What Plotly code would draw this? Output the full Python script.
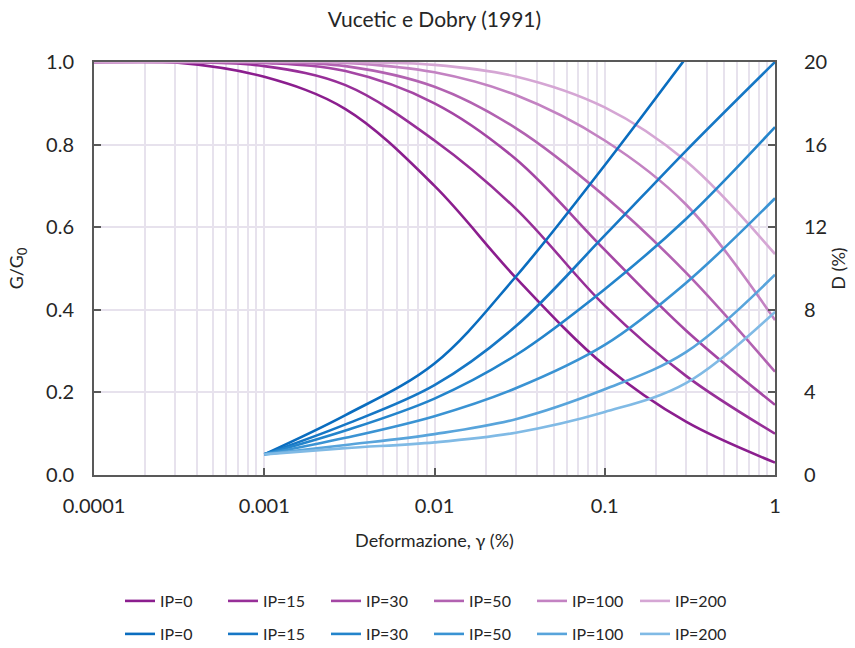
import plotly.graph_objects as go

# ---------------- data ----------------
STRAIN_G = [0.0001, 0.0003, 0.001, 0.003, 0.01, 0.03, 0.1, 0.3, 1.0]
G_IP0 = [1.0, 0.999, 0.964, 0.886, 0.70, 0.478, 0.265, 0.129, 0.03]
G_IP15 = [1.0, 1.0, 0.99, 0.944, 0.81, 0.645, 0.41, 0.24, 0.10]
G_IP30 = [1.0, 1.0, 0.998, 0.978, 0.90, 0.765, 0.545, 0.35, 0.17]
G_IP50 = [1.0, 1.0, 1.0, 0.99, 0.94, 0.84, 0.675, 0.49, 0.25]
G_IP100 = [1.0, 1.0, 1.0, 0.998, 0.975, 0.92, 0.81, 0.655, 0.375]
G_IP200 = [1.0, 1.0, 1.0, 1.0, 0.993, 0.965, 0.89, 0.76, 0.535]

STRAIN_D = [0.001, 0.003, 0.01, 0.03, 0.1, 0.3, 1.0]
D_IP0 = [1.0, 2.9, 5.4, 9.6, 15.0, 20.2, 26.0]
D_IP15 = [1.0, 2.45, 4.35, 7.2, 11.6, 15.7, 20.0]
D_IP30 = [1.0, 2.15, 3.7, 5.8, 9.0, 12.4, 16.85]
D_IP50 = [1.0, 1.8, 2.85, 4.2, 6.3, 9.3, 13.4]
D_IP100 = [1.0, 1.45, 1.98, 2.7, 4.15, 5.95, 9.7]
D_IP200 = [1.0, 1.3, 1.58, 2.05, 3.05, 4.45, 7.9]

NAMES = ["IP=0", "IP=15", "IP=30", "IP=50", "IP=100", "IP=200"]
X_TICKS = [0.0001, 0.001, 0.01, 0.1, 1]
X_TICKTEXT = ["0.0001", "0.001", "0.01", "0.1", "1"]

# ---------------- styles ----------------
PURPLES = ["#8B1E8E", "#972F98", "#A446A4", "#B262B1", "#C382C2", "#D5A6D4"]
BLUES = ["#0A6DBF", "#1677C5", "#2384CB", "#3A93D3", "#58A4DB", "#80BAE5"]
GRID = "#E7E2ED"
AX = "#595959"
TXT = "#262626"
FONT = "Lato"
LW = 2.6
SM = 1.0

fig = go.Figure()
for name, vals, col in zip(NAMES, [G_IP0, G_IP15, G_IP30, G_IP50, G_IP100, G_IP200], PURPLES):
    fig.add_trace(go.Scatter(x=STRAIN_G, y=vals, mode="lines", name=name,
                             line=dict(color=col, width=LW, shape="spline", smoothing=SM),
                             legend="legend"))
for name, vals, col in zip(NAMES, [D_IP0, D_IP15, D_IP30, D_IP50, D_IP100, D_IP200], BLUES):
    fig.add_trace(go.Scatter(x=STRAIN_D, y=vals, mode="lines", name=name, yaxis="y2",
                             line=dict(color=col, width=LW, shape="spline", smoothing=SM),
                             legend="legend2"))

minor_vals = []
for dec in [0.0001, 0.001, 0.01, 0.1]:
    for k in range(2, 10):
        minor_vals.append(dec * k)

tickfont = dict(size=20, family=FONT, color=TXT)
titlefont = dict(size=18, family=FONT, color=TXT)

fig.update_layout(
    width=855, height=648,
    margin=dict(l=94, r=80, t=62, b=173, autoexpand=False),
    paper_bgcolor="white", plot_bgcolor="white",
    font=dict(family=FONT, color=TXT),
    title=dict(text="Vucetic e Dobry (1991)", x=0.5, xref="paper", y=1 - 20 / 648,
               yanchor="middle", xanchor="center", font=dict(size=21, family=FONT, color=TXT)),
    xaxis=dict(type="log", range=[-4, 0], tickvals=X_TICKS, ticktext=X_TICKTEXT,
               ticks="inside", ticklen=7, tickwidth=2, tickcolor=AX,
               showline=True, linecolor=AX, linewidth=2, mirror=True,
               showgrid=True, gridcolor=GRID, gridwidth=1.5, zeroline=False, automargin=False,
               minor=dict(tickvals=minor_vals, showgrid=True, gridcolor=GRID, gridwidth=1.5, ticks=""),
               tickfont=tickfont, ticklabelstandoff=12,
               title=dict(text="Deformazione, γ (%)", font=titlefont, standoff=18)),
    yaxis=dict(range=[0, 1], dtick=0.2, tickformat=".1f",
               ticks="inside", ticklen=7, tickwidth=2, tickcolor=AX,
               showline=True, linecolor=AX, linewidth=2, automargin=False,
               showgrid=True, gridcolor=GRID, gridwidth=1.5, zeroline=False,
               tickfont=tickfont, ticklabelstandoff=14,
               title=dict(text="G/G<sub>0</sub>", font=titlefont, standoff=18)),
    yaxis2=dict(overlaying="y", side="right", range=[0, 20], dtick=4,
                ticks="inside", ticklen=7, tickwidth=2, tickcolor=AX,
                showline=True, linecolor=AX, linewidth=2, automargin=False,
                showgrid=False, zeroline=False,
                tickfont=tickfont, ticklabelstandoff=23,
                title=dict(text="D (%)", font=titlefont, standoff=6)),
    legend=dict(orientation="h", x=(120 - 94) / 681, y=(475 - 601) / 413, xanchor="left", yanchor="middle",
                entrywidth=58, font=dict(size=16, family=FONT, color=TXT), bgcolor="rgba(0,0,0,0)"),
    legend2=dict(orientation="h", x=(120 - 94) / 681, y=(475 - 634) / 413, xanchor="left", yanchor="middle",
                 entrywidth=58, font=dict(size=16, family=FONT, color=TXT), bgcolor="rgba(0,0,0,0)"),
    showlegend=True,
)

fig.write_html("out.html")
